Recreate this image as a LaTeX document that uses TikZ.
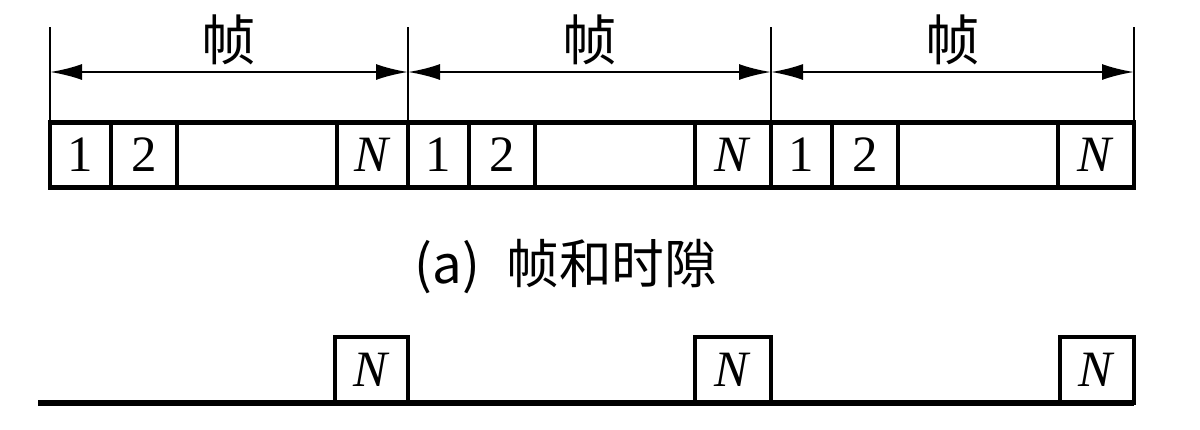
\documentclass[tikz,border=0pt]{standalone}
\usepackage{fontspec}
\setmainfont{Liberation Serif}
\newfontfamily\cjk{Noto Sans CJK SC}
\usetikzlibrary{arrows.meta}
\begin{document}
\begin{tikzpicture}[x=0.1mm,y=-0.1mm,
  font=\fontsize{14.5}{16}\selectfont,
  slot/.style={draw,line width=1.4pt,inner sep=0pt,outer sep=0pt,minimum height=6.5mm,anchor=west},
  tick/.style={line width=0.6pt},
  span/.style={line width=0.7pt,{Latex[length=3.2mm,width=1.6mm]}-{Latex[length=3.2mm,width=1.6mm]}}]
  \useasboundingbox (0,0) rectangle (1200,429);
  % frames and time slots
  \foreach \i/\x/\e in {1/50/408,2/408/771,3/771/1134} {
    \pgfmathsetmacro\w{(\e-\x-287)/10}
    \draw[tick] (\x,27) -- (\x,123);
    \coordinate (l\i) at (\x,72);
    \coordinate (r\i) at (\e,72);
    \draw[span] (l\i) -- node[above=0.2mm,inner sep=1pt,font=\fontsize{15.5}{16}\cjk] (fl\i) {帧} (r\i);
    \node[slot,minimum width=6.1mm] (a\i) at (\x,155) {1};
    \node[slot,minimum width=6.6mm] (b\i) at (\x+61,155) {2};
    \node[slot,minimum width=16mm] (c\i) at (\x+127,155) {};
    \node[slot,minimum width=\w mm] (n\i) at (\x+287,155) {\textit{N}};
  }
  \draw[tick] (1134,27) -- (1134,123);
  \node[font=\fontsize{15}{17}\cjk] (cap) at (566,267) {(a)\enspace 帧和时隙};
  % frame N slots only
  \draw[line width=1.5pt] (38,403) -- (1134,403);
  \foreach \i/\x/\e in {1/335/408,2/695/771,3/1060/1134} {
    \pgfmathsetmacro\w{(\e-\x)/10}
    \node[slot,minimum width=\w mm,minimum height=6.6mm,anchor=south west] (m\i) at (\x,403) {\textit{N}};
  }
\end{tikzpicture}
\end{document}
